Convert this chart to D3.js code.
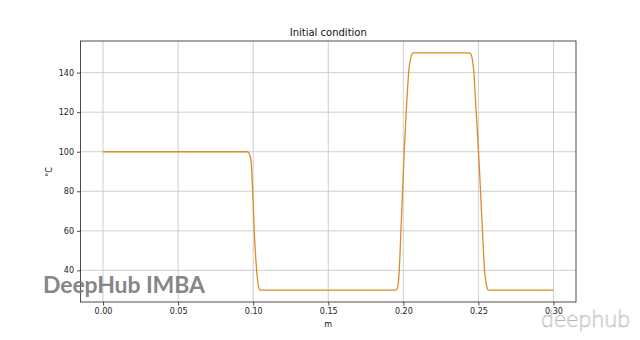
<!DOCTYPE html>
<html>
<head>
<meta charset="utf-8">
<script src="https://cdn.jsdelivr.net/npm/d3@7"></script>
<style>
  body { margin: 0; background: #fff; }
  svg { display: block; font-family: "DejaVu Sans", sans-serif; }
</style>
</head>
<body>
<svg id="chart" width="640" height="340"></svg>
<script>
// positions along the rod (m) and temperature (°C)
const posM = [0.000, 0.0960, 0.0975, 0.0985, 0.0992, 0.0999, 0.1007, 0.1015, 0.1023, 0.1031, 0.1038, 0.1046,
              0.1950, 0.1960, 0.1967, 0.1973, 0.1984, 0.1995, 0.2006, 0.2019, 0.2030, 0.2038, 0.2048, 0.2058, 0.2070,
              0.2440, 0.2452, 0.2461, 0.2470, 0.2485, 0.2501, 0.2514, 0.2527, 0.2541, 0.2548, 0.2555, 0.2565, 0.300];
const tempC = [100, 100, 99, 96, 88, 76, 60, 49, 40, 34, 31, 30,
               30, 31, 34, 40, 60, 80, 100, 120, 134, 142, 147, 149.5, 150,
               150, 149, 146, 140, 120, 100, 80, 60, 40, 35, 32, 30, 30];
const xTicks = [0.00, 0.05, 0.10, 0.15, 0.20, 0.25, 0.30];
const yTicks = [40, 60, 80, 100, 120, 140];

const svg = d3.select("#chart");
const margin = { top: 41, right: 64, bottom: 38, left: 80.5 };
const W = 640, H = 340;

const x = d3.scaleLinear().domain([-0.015, 0.315]).range([margin.left, W - margin.right]);
const y = d3.scaleLinear().domain([24, 156]).range([H - margin.bottom, margin.top]);

// grid
const grid = svg.append("g").attr("stroke", "#b0b0b0").attr("stroke-width", 0.8).attr("opacity", 0.75);
grid.selectAll(".gx").data(xTicks).join("line")
  .attr("x1", d => x(d)).attr("x2", d => x(d))
  .attr("y1", margin.top).attr("y2", H - margin.bottom);
grid.selectAll(".gy").data(yTicks).join("line")
  .attr("y1", d => y(d)).attr("y2", d => y(d))
  .attr("x1", margin.left).attr("x2", W - margin.right);

// curve
const data = posM.map((p, i) => ({ p: p, t: tempC[i] }));
svg.append("path")
  .datum(data)
  .attr("fill", "none")
  .attr("stroke", "#dc8c24")
  .attr("stroke-width", 1.3)
  .attr("d", d3.line().x(d => x(d.p)).y(d => y(d.t)).curve(d3.curveMonotoneX));

// axes
const xAxis = svg.append("g")
  .attr("transform", `translate(0,${H - margin.bottom})`)
  .call(d3.axisBottom(x).tickValues(xTicks).tickFormat(d3.format(".2f")).tickSize(3.5).tickPadding(3));
const yAxis = svg.append("g")
  .attr("transform", `translate(${margin.left},0)`)
  .call(d3.axisLeft(y).tickValues(yTicks).tickSize(3.5).tickPadding(3));
[xAxis, yAxis].forEach(a => {
  a.select(".domain").remove();
  a.selectAll("text").attr("font-size", 8).attr("fill", "#222").attr("font-family", "DejaVu Sans");
  a.selectAll("line").attr("stroke", "#222").attr("stroke-width", 0.8);
});

// frame
svg.append("rect")
  .attr("x", margin.left).attr("y", margin.top)
  .attr("width", W - margin.right - margin.left).attr("height", H - margin.bottom - margin.top)
  .attr("fill", "none").attr("stroke", "#222").attr("stroke-width", 0.8);

// labels
svg.append("text").attr("x", (margin.left + W - margin.right) / 2).attr("y", 36)
  .attr("text-anchor", "middle").attr("font-size", 10).attr("fill", "#111").text("Initial condition");
svg.append("text").attr("x", (margin.left + W - margin.right) / 2).attr("y", 327)
  .attr("text-anchor", "middle").attr("font-size", 8).attr("fill", "#111").text("m");
svg.append("text").attr("transform", "translate(52,172) rotate(-90)")
  .attr("text-anchor", "middle").attr("font-size", 8).attr("fill", "#111").text("°C");

// watermarks
svg.append("text").attr("x", 43).attr("y", 293)
  .attr("font-family", "Lato, sans-serif").attr("font-weight", "bold").attr("font-size", 23)
  .attr("textLength", 162).attr("fill", "#7a7a7a").attr("opacity", 0.9).text("DeepHub IMBA");
svg.append("text").attr("x", 541).attr("y", 327)
  .attr("font-family", "Lato, sans-serif").attr("font-weight", 300).attr("font-size", 23)
  .attr("textLength", 89).attr("fill", "#fff").attr("fill-opacity", 0.85)
  .attr("stroke", "#b4b4b4").attr("stroke-width", 0.5)
  .text("deephub");
</script>
</body>
</html>
